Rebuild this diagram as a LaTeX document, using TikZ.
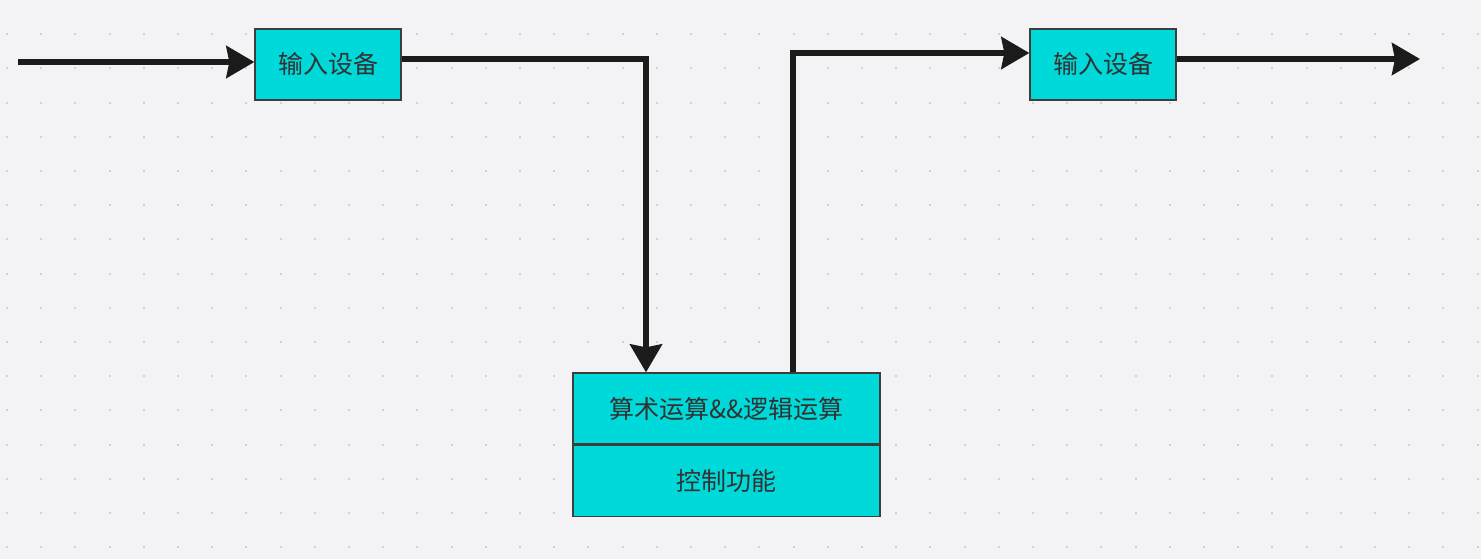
\documentclass[tikz,border=0pt]{standalone}
\usepackage{fontspec}
\newfontfamily\cjk{Noto Sans CJK SC}
\usetikzlibrary{arrows.meta,positioning}
\definecolor{bgcol}{HTML}{F3F3F5}
\definecolor{dotcol}{HTML}{D2D2D6}
\definecolor{boxcol}{HTML}{00D9D9}
\definecolor{ink}{HTML}{1B1B1B}
\tikzset{
  every picture/.style={line join=miter},
  unit/.style={draw=ink!85, line width=1.3pt, fill=boxcol, text=ink!90,
    font=\cjk\fontsize{25}{30}\selectfont, inner sep=0pt},
  flow/.style={draw=ink, line width=5.5pt,
    -{Stealth[length=28pt,width=32pt,inset=3pt]}},
}
\begin{document}
\begin{tikzpicture}[x=1pt,y=-1pt]
\useasboundingbox[fill=bgcol] (0,0) rectangle (1481,559);
% dotted canvas
\foreach \i in {0,...,43}{
  \foreach \j in {1,...,16}{
    \fill[dotcol] (7+34.2*\i-1,34.2*\j-1) rectangle ++(2,2);
  }
}
\node[unit, minimum width=146pt, minimum height=71pt] (in1) at (328,64.5) {输入设备};
\node[unit, minimum width=146pt, minimum height=71pt] (in2) at (1103,64.5) {输入设备};
\node[unit, minimum width=307pt, minimum height=71pt] (alu) at (726.5,408.5) {算术运算\&\&逻辑运算};
\node[unit, minimum width=307pt, minimum height=71pt, below=0pt of alu] (ctl) {控制功能};
\coordinate (src) at (18,62);
\coordinate (dst) at (1420,59);
\draw[flow] (src) -- (src -| in1.west);
\draw[flow] ([yshift=5.5pt]in1.east) -| ([xshift=-80.5pt]alu.north);
\draw[flow] ([xshift=66.5pt]alu.north) |- ([yshift=11.5pt]in2.west);
\draw[flow] (in2.east |- dst) -- (dst);
\end{tikzpicture}
\end{document}
